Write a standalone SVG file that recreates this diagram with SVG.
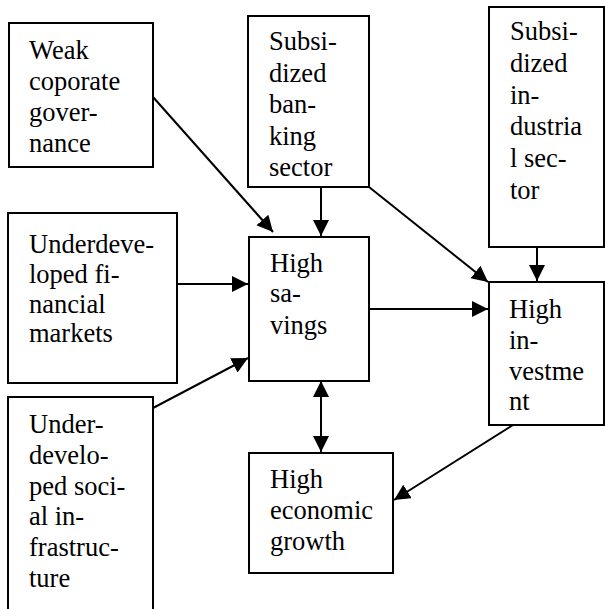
<svg xmlns="http://www.w3.org/2000/svg" width="605" height="609" viewBox="0 0 605 609">
<style>
.box{fill:#fff;stroke:#000;stroke-width:2}
.c line{stroke:#000;stroke-width:2}
</style>
<defs>
<marker id="ah" markerUnits="userSpaceOnUse" markerWidth="17" markerHeight="17" refX="16" refY="8" orient="auto-start-reverse" viewBox="0 0 17 17">
<path d="M0,0 L16,8 L0,16 Z" fill="#000"/>
</marker>
</defs>
<rect width="605" height="609" fill="#fff"/>
<g font-family="Liberation Serif" font-size="26.5" fill="#000">
<g id="weak">
<rect class="box" x="9" y="23" width="144" height="144"/>
<text x="29" y="59">Weak</text><text x="29" y="90">coporate</text><text x="29" y="121">gover-</text><text x="29" y="152">nance</text>
</g>
<g id="banking">
<rect class="box" x="248" y="16" width="121" height="171"/>
<text x="269" y="50">Subsi-</text><text x="269" y="81.5">dized</text><text x="269" y="113">ban-</text><text x="269" y="144.5">king</text><text x="269" y="176">sector</text>
</g>
<g id="industrial">
<rect class="box" x="489" y="7" width="115" height="240"/>
<text x="510" y="40">Subsi-</text><text x="510" y="71.8">dized</text><text x="510" y="103.6">in-</text><text x="510" y="135.4">dustria</text><text x="510" y="167.2">l sec-</text><text x="510" y="199">tor</text>
</g>
<g id="financial">
<rect class="box" x="8" y="213" width="169" height="170"/>
<text x="29" y="253">Underdeve-</text><text x="29" y="283">loped fi-</text><text x="29" y="313">nancial</text><text x="29" y="342">markets</text>
</g>
<g id="savings">
<rect class="box" x="249" y="237" width="120" height="144"/>
<text x="270" y="272">High</text><text x="270" y="302">sa-</text><text x="270" y="334">vings</text>
</g>
<g id="investment">
<rect class="box" x="489" y="282" width="115" height="143"/>
<text x="509" y="318">High</text><text x="509" y="349">in-</text><text x="509" y="380">vestme</text><text x="509" y="410">nt</text>
</g>
<g id="social">
<rect class="box" x="8" y="397" width="145" height="240"/>
<text x="29" y="433">Under-</text><text x="29" y="463.8">develo-</text><text x="29" y="494.6">ped soci-</text><text x="29" y="525.4">al in-</text><text x="29" y="556.2">frastruc-</text><text x="29" y="587">ture</text>
</g>
<g id="growth">
<rect class="box" x="249" y="453" width="144" height="120"/>
<text x="270" y="488">High</text><text x="270" y="519">economic</text><text x="270" y="550">growth</text>
</g>
</g>
<g class="c" id="connectors">
<line x1="153" y1="97" x2="273" y2="232" marker-end="url(#ah)"/>
<line x1="321" y1="187" x2="321" y2="236" marker-end="url(#ah)"/>
<line x1="369" y1="187" x2="488" y2="282" marker-end="url(#ah)"/>
<line x1="537" y1="247" x2="537" y2="281" marker-end="url(#ah)"/>
<line x1="177" y1="284" x2="248" y2="284" marker-end="url(#ah)"/>
<line x1="153" y1="408" x2="248" y2="358" marker-end="url(#ah)"/>
<line x1="369" y1="309" x2="488" y2="309" marker-end="url(#ah)"/>
<line x1="321" y1="381" x2="321" y2="452" marker-start="url(#ah)" marker-end="url(#ah)"/>
<line x1="513" y1="425" x2="394" y2="500" marker-end="url(#ah)"/>
</g>
</svg>
